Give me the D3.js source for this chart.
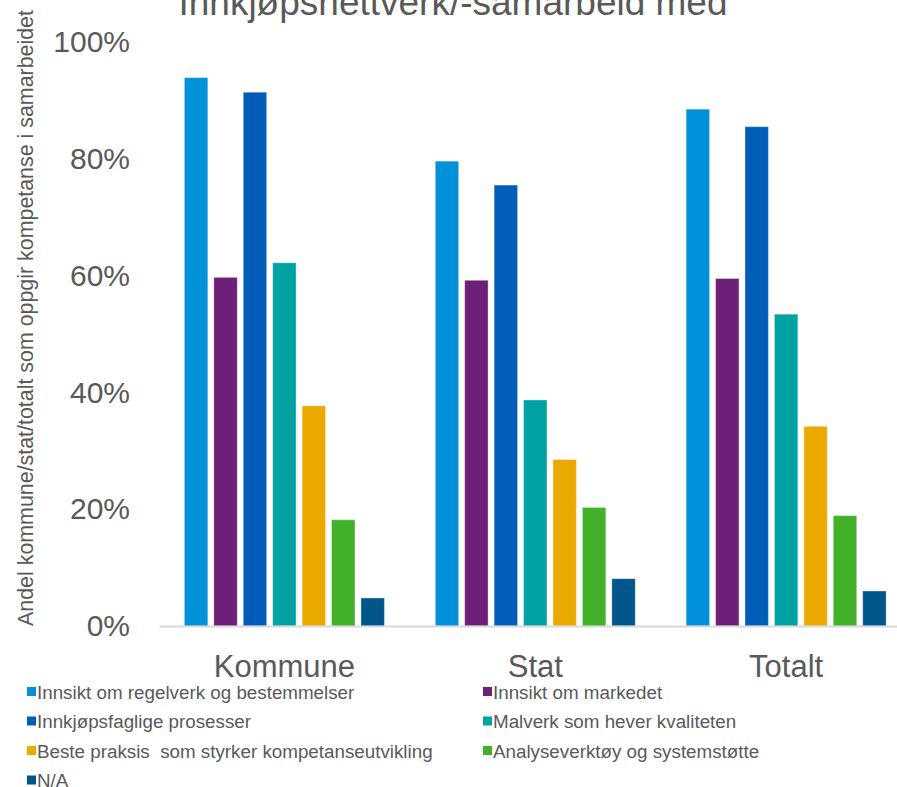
<!DOCTYPE html>
<html>
<head>
<meta charset="utf-8">
<script src="https://cdn.jsdelivr.net/npm/d3@7"></script>
<style>
  html, body { margin: 0; padding: 0; background: #fff; }
  svg { display: block; font-family: "Liberation Sans", Arial, sans-serif; }
</style>
</head>
<body>
<svg id="chart" width="897" height="787"></svg>
<script>
// Survey groups on the x axis
const categories = ["Kommune", "Stat", "Totalt"];

// Competence areas (one bar per area in each group)
const seriesNames = [
  "Innsikt om regelverk og bestemmelser",
  "Innsikt om markedet",
  "Innkjøpsfaglige prosesser",
  "Malverk som hever kvaliteten",
  "Beste praksis  som styrker kompetanseutvikling",
  "Analyseverktøy og systemstøtte",
  "N/A"
];

// Share of respondents per group: Kommune, Stat, Totalt
const regelverk  = [0.939, 0.796, 0.885];
const markedet   = [0.597, 0.592, 0.595];
const prosesser  = [0.914, 0.755, 0.855];
const malverk    = [0.622, 0.387, 0.534];
const praksis    = [0.377, 0.285, 0.342];
const analyse    = [0.182, 0.203, 0.189];
const na         = [0.048, 0.081, 0.060];

const seriesValues = [regelverk, markedet, prosesser, malverk, praksis, analyse, na];

const colors = ["#0091DA", "#6D2077", "#005EB8", "#00A3A1", "#EAAA00", "#43B02A", "#00568A"];

const yTicks = [0, 0.2, 0.4, 0.6, 0.8, 1.0];

const titleText = "Innkjøpsnettverk/-samarbeid med";
const yTitle = "Andel kommune/stat/totalt som oppgir kompetanse i samarbeidet";

const svg = d3.select("#chart");
const textColor = "#595959";

// Scales
const y = d3.scaleLinear().domain([0, 1]).range([626, 42]);
const x0 = d3.scaleBand().domain(categories).range([159, 911.6]).padding(0);
const x1 = d3.scaleBand().domain(seriesNames).range([25.4, 225.4]).paddingInner(0.204).paddingOuter(0);
const color = d3.scaleOrdinal().domain(seriesNames).range(colors);

// Title (partly above the top edge)
svg.append("text")
  .attr("x", 453)
  .attr("y", 15)
  .attr("text-anchor", "middle")
  .attr("font-size", 37)
  .attr("fill", textColor)
  .text(titleText);

// Y axis labels
const yAxis = svg.append("g")
  .attr("transform", "translate(159,0)")
  .call(d3.axisLeft(y).tickValues(yTicks).tickFormat(d3.format(".0%")).tickSize(0).tickPadding(29));
yAxis.select(".domain").remove();
yAxis.selectAll("text")
  .attr("font-size", 30)
  .attr("font-family", "Liberation Sans, Arial, sans-serif")
  .attr("fill", textColor);

// Y axis title
svg.append("text")
  .attr("transform", "translate(33,318) rotate(-90)")
  .attr("text-anchor", "middle")
  .attr("font-size", 21.4)
  .attr("fill", textColor)
  .text(yTitle);

// Bars
const rows = categories.map((c, i) => ({
  category: c,
  values: seriesNames.map((s, j) => ({ key: s, value: seriesValues[j][i] }))
}));

const groups = svg.append("g").selectAll("g")
  .data(rows)
  .join("g")
  .attr("transform", d => `translate(${x0(d.category)},0)`);

groups.selectAll("rect")
  .data(d => d.values)
  .join("rect")
  .attr("x", d => x1(d.key))
  .attr("y", d => y(d.value))
  .attr("width", x1.bandwidth())
  .attr("height", d => y(0) - y(d.value))
  .attr("fill", d => color(d.key))
  .attr("stroke", "#ffffff")
  .attr("stroke-opacity", 0.35)
  .attr("stroke-width", 1);

// Category axis with baseline
const xAxis = svg.append("g")
  .attr("transform", `translate(0,${y(0)})`)
  .call(d3.axisBottom(x0).tickSize(0).tickPadding(29));
xAxis.select(".domain")
  .attr("stroke", "#d9d9d9")
  .attr("stroke-width", 2);
xAxis.selectAll("text")
  .attr("font-size", 31)
  .attr("font-family", "Liberation Sans, Arial, sans-serif")
  .attr("fill", textColor);

// Legend: two columns, four rows
const legend = svg.append("g");
const legendItems = legend.selectAll("g")
  .data(seriesNames)
  .join("g")
  .attr("transform", (d, i) => `translate(${i % 2 === 0 ? 27 : 483},${692 + Math.floor(i / 2) * 29.5})`);

legendItems.append("rect")
  .attr("x", 0)
  .attr("y", -5)
  .attr("width", 9)
  .attr("height", 9)
  .attr("fill", d => color(d));

legendItems.append("text")
  .attr("x", 10)
  .attr("y", 0)
  .attr("dy", "0.35em")
  .attr("font-size", 18.8)
  .attr("fill", textColor)
  .style("white-space", "pre")
  .text(d => d);
</script>
</body>
</html>
